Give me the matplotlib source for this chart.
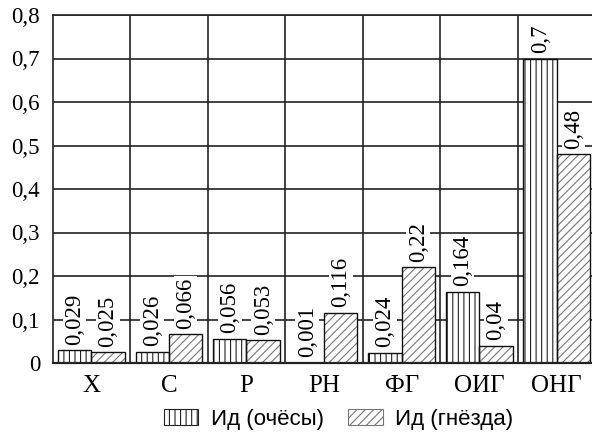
import matplotlib
matplotlib.use("Agg")
import matplotlib.pyplot as plt
import numpy as np

categories = ["Х", "С", "Р", "РН", "ФГ", "ОИГ", "ОНГ"]
ochesy = [0.029, 0.026, 0.056, 0.001, 0.024, 0.164, 0.7]
gnezda = [0.025, 0.066, 0.053, 0.116, 0.22, 0.04, 0.48]
ochesy_labels = ["0,029", "0,026", "0,056", "0,001", "0,024", "0,164", "0,7"]
gnezda_labels = ["0,025", "0,066", "0,053", "0,116", "0,22", "0,04", "0,48"]
yticks = [0, 0.1, 0.2, 0.3, 0.4, 0.5, 0.6, 0.7, 0.8]
ytick_labels = ["0", "0,1", "0,2", "0,3", "0,4", "0,5", "0,6", "0,7", "0,8"]
series_names = ["Ид (очёсы)", "Ид (гнёзда)"]

plt.rcParams['hatch.linewidth'] = 0.8
serif = ['Liberation Serif', 'DejaVu Serif']
sans = ['Liberation Sans', 'DejaVu Sans']

fig = plt.figure(figsize=(5.92, 4.34), dpi=100)
ax = fig.add_axes([52.5 / 592, 71 / 434, (595.6 - 52.5) / 592, (363 - 15) / 434])

x = np.arange(len(categories))
w = 0.43
off = 0.215

# bars with hatch
b1 = ax.bar(x - off, ochesy, w, facecolor='white', edgecolor='#222222',
            hatch='|||', linewidth=0, zorder=3)
b2 = ax.bar(x + off, gnezda, w, facecolor='white', edgecolor='#777777',
            hatch='////', linewidth=0, zorder=3)
# outlines
ax.bar(x - off, ochesy, w, facecolor='none', edgecolor='#111111', linewidth=1.0, zorder=4)
ax.bar(x + off, gnezda, w, facecolor='none', edgecolor='#111111', linewidth=1.0, zorder=4)

for xi, v, lab in zip(x - off, ochesy, ochesy_labels):
    ax.text(xi, v + 0.012, lab, rotation=90, ha='center', va='bottom',
            fontsize=16.5, family=serif, zorder=5,
            bbox=dict(facecolor='white', edgecolor='none', pad=1.0))
for xi, v, lab in zip(x + off, gnezda, gnezda_labels):
    ax.text(xi, v + 0.012, lab, rotation=90, ha='center', va='bottom',
            fontsize=16.5, family=serif, zorder=5,
            bbox=dict(facecolor='white', edgecolor='none', pad=1.0))

ax.set_xlim(-0.5, len(categories) - 0.5)
ax.set_ylim(0, 0.8)
ax.set_yticks(yticks)
ax.set_yticklabels(ytick_labels, family=serif, fontsize=16.5)
ax.set_xticks(x)
ax.set_xticklabels(categories, family=serif, fontsize=18)
ax.tick_params(length=0)
ax.tick_params(axis='y', pad=9)
ax.tick_params(axis='x', pad=9)

for yv in yticks[1:]:
    ax.axhline(yv, color='#222222', linewidth=1.2, zorder=1)
for xv in np.arange(0.5, len(categories) - 0.5, 1.0):
    ax.axvline(xv, color='#222222', linewidth=1.2, zorder=1)

for s in ax.spines.values():
    s.set_color('#222222')
    s.set_linewidth(1.2)
ax.spines['bottom'].set_linewidth(1.6)
ax.spines['bottom'].set_zorder(6)

leg = fig.legend([b1, b2], series_names, loc='center', ncol=2,
                 bbox_to_anchor=(338.5 / 592, 1 - 419 / 434), frameon=False,
                 prop={'family': sans, 'size': 16}, handlelength=1.55,
                 handleheight=0.75, columnspacing=1.1, handletextpad=0.55,
                 borderpad=0.1)
for h in leg.legend_handles:
    h.set_linewidth(0.8)

fig.savefig("out.png", dpi=100)
